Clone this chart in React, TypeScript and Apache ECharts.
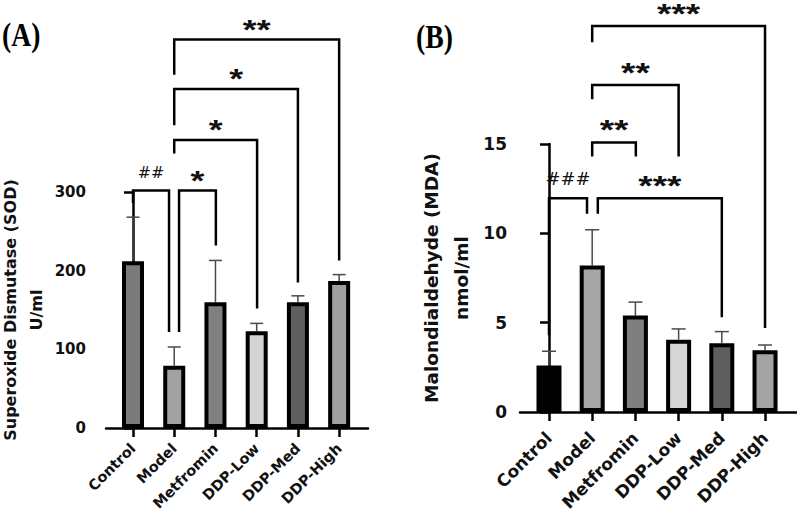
import React, { useEffect, useRef } from "react";
import * as echarts from "echarts";

const categories = ["Control", "Model", "Metfromin", "DDP-Low", "DDP-Med", "DDP-High"];
const tickPositions = [0, 1, 2, 3, 4, 5];

// Panel A: SOD (U/ml)
const sodMean = [212, 79, 160, 123, 160, 187];
const sodSD = [56, 24, 53, 10, 8, 8];
const sodColors = ["#7b7b7b", "#a2a2a2", "#808080", "#d4d4d4", "#5f5f5f", "#a0a0a0"];
const sodTicks = [0, 100, 200, 300];
// bracket: [xFrom, top, xTo, fromEnd, toEnd]
const sodBrackets = [
  [0, 302, 0.874, 286, 122],
  [1.117, 302, 2.01, 122, 232],
  [1, 366, 3.01, 349, 152],
  [1, 431, 4, 385, 185],
  [1, 494, 5, 449, 213],
];
const sodBracketLabels = ["##", "*", "*", "*", "**"];

// Panel B: MDA (nmol/ml)
const mdaMean = [2.6, 8.2, 5.4, 4.05, 3.85, 3.45];
const mdaSD = [0.8, 2.0, 0.75, 0.6, 0.65, 0.3];
const mdaColors = ["#000000", "#a5a5a5", "#7f7f7f", "#d6d6d6", "#5e5e5e", "#a3a3a3"];
const mdaTicks = [0, 5, 10, 15];
const mdaBrackets = [
  [0, 11.96, 0.88, 4.3, 11.1],
  [1.13, 11.96, 4, 11.1, 5.3],
  [1, 15.08, 2.01, 14.3, 14.3],
  [1, 18.3, 3, 17.5, 14.3],
  [1, 21.6, 5, 20.7, 4.7],
];
const mdaBracketLabels = ["###", "***", "**", "**", "***"];

const FONT = "DejaVu Sans";

function makeXAxis(gridIndex: number, min: number, max: number, fontSize: number, margin: number) {
  return {
    type: "value",
    gridIndex,
    min,
    max,
    splitLine: { show: false },
    axisLine: { show: true, onZero: false, lineStyle: { color: "#000", width: 2.5 } },
    axisTick: {
      show: true,
      customValues: tickPositions,
      length: 9,
      lineStyle: { color: "#000", width: 2.5 },
    },
    axisLabel: {
      customValues: tickPositions,
      formatter: (v: number) => categories[Math.round(v)] ?? "",
      rotate: 45,
      margin,
      fontFamily: FONT,
      fontWeight: "bold",
      fontSize,
      color: "#111",
    },
  };
}

function makeYAxis(
  gridIndex: number,
  max: number,
  interval: number,
  line1: string,
  line2: string,
  nameGap: number,
  nameSize: number,
  lh1: number,
  lh2: number,
  labelSize: number,
  margin: number
) {
  const base = { fontFamily: FONT, fontWeight: "bold", fontSize: nameSize, color: "#111" };
  return {
    type: "value",
    gridIndex,
    min: 0,
    max,
    interval,
    splitLine: { show: false },
    axisLine: { show: true, lineStyle: { color: "#000", width: 2.5 } },
    axisTick: { show: true, length: 9, lineStyle: { color: "#000", width: 2.5 } },
    axisLabel: {
      margin,
      fontFamily: FONT,
      fontWeight: "bold",
      fontSize: labelSize,
      color: "#111",
    },
    name: `{a|${line1}}\n{b|${line2}}`,
    nameLocation: "middle",
    nameRotate: 90,
    nameGap,
    nameTextStyle: {
      ...base,
      rich: {
        a: { ...base, lineHeight: lh1 },
        b: { ...base, lineHeight: lh2 },
      },
    },
  };
}

function barSeries(idx: number, means: number[], colors: string[], barWidth: number) {
  return {
    type: "bar",
    xAxisIndex: idx,
    yAxisIndex: idx,
    barWidth,
    z: 3,
    data: means.map((m, i) => ({
      value: [i, m],
      itemStyle: { color: colors[i], borderColor: "#000", borderWidth: 4 },
    })),
  };
}

function errorSeries(idx: number, means: number[], sds: number[], capHalf: number) {
  return {
    type: "custom",
    xAxisIndex: idx,
    yAxisIndex: idx,
    z: 2,
    clip: false,
    data: means.map((m, i) => [i, m, sds[i]]),
    renderItem: (params: any, api: any) => {
      const x = api.value(0);
      const m = api.value(1);
      const s = api.value(2);
      const p0 = api.coord([x, m]);
      const p1 = api.coord([x, m + s]);
      return {
        type: "group",
        children: [
          {
            type: "line",
            shape: { x1: p0[0], y1: p0[1], x2: p1[0], y2: p1[1] },
            style: { stroke: "#4a4a4a", lineWidth: 1.5 },
          },
          {
            type: "line",
            shape: { x1: p1[0] - capHalf, y1: p1[1], x2: p1[0] + capHalf, y2: p1[1] },
            style: { stroke: "#4a4a4a", lineWidth: 1.5 },
          },
        ],
      };
    },
  };
}

function bracketSeries(
  idx: number,
  brackets: number[][],
  labels: string[],
  hashSize: number,
  starSize: number,
  starOffset: number,
  hashOffset: number
) {
  return {
    type: "custom",
    xAxisIndex: idx,
    yAxisIndex: idx,
    z: 5,
    clip: false,
    silent: true,
    data: brackets,
    renderItem: (params: any, api: any) => {
      const x1 = api.value(0);
      const top = api.value(1);
      const x2 = api.value(2);
      const e1 = api.value(3);
      const e2 = api.value(4);
      const a = api.coord([x1, e1]);
      const b = api.coord([x1, top]);
      const c = api.coord([x2, top]);
      const d = api.coord([x2, e2]);
      const label = labels[params.dataIndex];
      const isHash = label.indexOf("#") >= 0;
      const textEl = isHash
        ? {
            type: "text",
            x: (b[0] + c[0]) / 2,
            y: b[1] - hashOffset,
            scaleX: 1.05,
            style: {
              text: label,
              fill: "#111",
              fontFamily: FONT,
              fontWeight: "normal",
              fontSize: hashSize,
              lineHeight: hashSize,
              align: "center",
              verticalAlign: "middle",
            },
          }
        : {
            type: "text",
            x: (b[0] + c[0]) / 2,
            y: b[1] - starOffset,
            scaleX: 1.32,
            style: {
              text: label,
              fill: "#111",
              fontFamily: "Liberation Sans",
              fontWeight: "bold",
              fontSize: starSize,
              lineHeight: 12,
              align: "center",
              verticalAlign: "middle",
            },
          };
      return {
        type: "group",
        children: [
          {
            type: "polyline",
            shape: { points: [a, b, c, d] },
            style: { stroke: "#000", lineWidth: 2.5, fill: "none" },
          },
          textEl,
        ],
      };
    },
  };
}

export default function App() {
  const ref = useRef<HTMLDivElement>(null);
  useEffect(() => {
    if (!ref.current) return;
    const chart = echarts.init(ref.current, null, { renderer: "svg" });
    chart.setOption({
      animation: false,
      backgroundColor: "#fff",
      grid: [
        { left: 106, top: 192, width: 262, height: 236, containLabel: false, outerBoundsMode: "none" },
        { left: 520, top: 144, width: 277, height: 268, containLabel: false, outerBoundsMode: "none" },
      ],
      xAxis: [makeXAxis(0, -0.655, 5.7, 14.5, 18), makeXAxis(1, -0.671, 5.74, 17, 23)],
      yAxis: [
        makeYAxis(0, sodTicks[sodTicks.length - 1], sodTicks[1], "Superoxide Dismutase (SOD)", "U/ml", 54, 16, 21, 31, 15, 20),
        makeYAxis(1, mdaTicks[mdaTicks.length - 1], mdaTicks[1], "Malondialdehyde (MDA)", "nmol/ml", 44, 18.5, 30, 30, 17, 13),
      ],
      graphic: [
        {
          type: "text",
          left: 2,
          top: 19,
          scaleX: 0.84,
          style: {
            text: "(A)",
            fontFamily: "Liberation Serif",
            fontWeight: "bold",
            fontSize: 33,
            fill: "#000",
          },
        },
        {
          type: "text",
          left: 416,
          top: 21,
          scaleX: 0.84,
          style: {
            text: "(B)",
            fontFamily: "Liberation Serif",
            fontWeight: "bold",
            fontSize: 33,
            fill: "#000",
          },
        },
      ],
      series: [
        errorSeries(0, sodMean, sodSD, 6.5),
        barSeries(0, sodMean, sodColors, 22),
        bracketSeries(0, sodBrackets, sodBracketLabels, 15, 27, 10, 17),
        errorSeries(1, mdaMean, mdaSD, 7),
        barSeries(1, mdaMean, mdaColors, 25),
        bracketSeries(1, mdaBrackets, mdaBracketLabels, 17, 28, 13, 19),
      ],
    });
    return () => chart.dispose();
  }, []);
  return (
    <div
      ref={ref}
      style={{ position: "absolute", left: 0, top: 0, width: 797, height: 515 }}
    />
  );
}
